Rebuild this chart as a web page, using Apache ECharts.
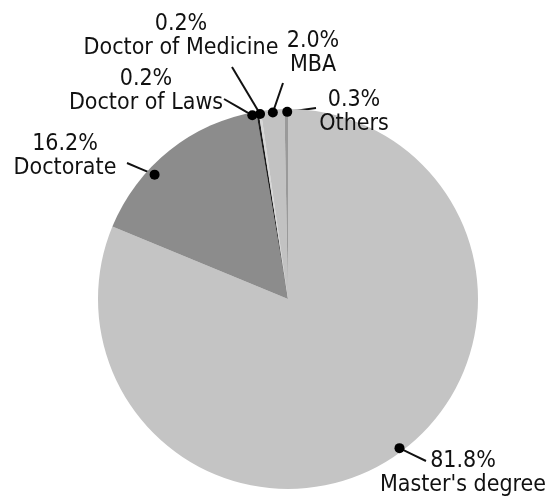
<!DOCTYPE html>
<html>
<head>
<meta charset="utf-8">
<script src="https://cdn.jsdelivr.net/npm/echarts@6/dist/echarts.min.js"></script>
<style>
html,body{margin:0;padding:0;background:#fff;}
#chart{width:546px;height:497px;}
</style>
</head>
<body>
<div id="chart"></div>
<script>
// ---- data ----
const categories = ["Master's degree", "Doctorate", "Doctor of Laws", "Doctor of Medicine", "MBA", "Others"];
const shares = [81.8, 16.2, 0.2, 0.2, 2.0, 0.3];
const pctLabels = ["81.8%", "16.2%", "0.2%", "0.2%", "2.0%", "0.3%"];

// ---- layout / style ----
const CX = 288, CY = 299, R = 190;
const sliceColors = ['#c4c4c4', '#8c8c8c', '#1c1c1c', '#d6d6d6', '#c2c2c2', '#9a9a9a'];
const labelPos = [[463, 473], [65, 156], [146, 91], [181, 36], [313, 53], [354, 112]];
const lineEnd = [[426, 461], [127, 163], [224, 99], [232, 67], [283, 83], [316, 108]];
const dotShift = [-3, -8.4, -1.7, 0, 0, 0.3];
const dotRad = [0.98, 0.96, 0.985, 0.985, 0.985, 0.985];

const total = shares.reduce((a, b) => a + b, 0);
const dotAngles = [];
let cum = 0;
shares.forEach((v, i) => {
  dotAngles.push((cum + v / 2) / total * 360 + dotShift[i]);
  cum += v;
});
const dotPixel = dotAngles.map((a, i) => {
  const t = a * Math.PI / 180;
  return [CX + dotRad[i] * R * Math.sin(t), CY - dotRad[i] * R * Math.cos(t)];
});

const chart = echarts.init(document.getElementById('chart'));
chart.setOption({
  animation: false,
  backgroundColor: '#fff',
  polar: { center: [CX, CY], radius: R },
  angleAxis: { type: 'value', min: 0, max: 360, startAngle: 90, clockwise: true, show: false },
  radiusAxis: { type: 'value', min: 0, max: 1, show: false },
  series: [
    {
      type: 'pie',
      center: [CX, CY],
      radius: R,
      startAngle: 90,
      clockwise: true,
      avoidLabelOverlap: false,
      minShowLabelAngle: 0,
      emphasis: { disabled: true },
      itemStyle: { borderWidth: 0 },
      data: categories.map((c, i) => ({ name: c, value: shares[i], itemStyle: { color: sliceColors[i] } })),
      label: {
        show: true,
        position: 'outside',
        formatter: p => pctLabels[p.dataIndex] + '\n' + p.name,
        fontFamily: "'Liberation Sans Narrow', 'DejaVu Sans Condensed', sans-serif",
        fontSize: 23,
        lineHeight: 24,
        color: '#111',
        align: 'center'
      },
      labelLine: { show: true, length: 10, length2: 10, lineStyle: { color: '#111', width: 2 } },
      labelLayout: function (params) {
        const i = params.dataIndex;
        const d = dotPixel[i], e = lineEnd[i];
        return {
          x: labelPos[i][0],
          y: labelPos[i][1],
          align: 'center',
          verticalAlign: 'middle',
          labelLinePoints: [[d[0], d[1]], [(d[0] + e[0]) / 2, (d[1] + e[1]) / 2], [e[0], e[1]]]
        };
      }
    },
    {
      type: 'scatter',
      coordinateSystem: 'polar',
      z: 5,
      symbol: 'circle',
      symbolSize: 10,
      silent: true,
      itemStyle: { color: '#000', opacity: 1 },
      data: dotAngles.map((a, i) => [dotRad[i], a])
    }
  ]
});
</script>
</body>
</html>
